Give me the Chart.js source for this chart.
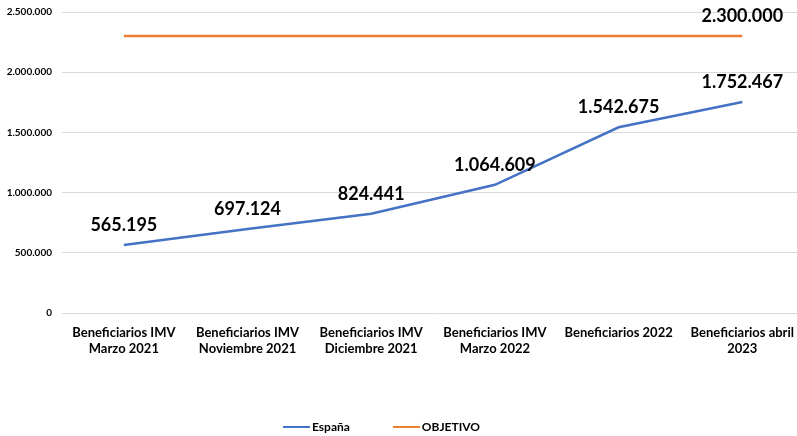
<!DOCTYPE html>
<html>
<head>
<meta charset="utf-8">
<script src="https://cdn.jsdelivr.net/npm/chart.js@4"></script>
<style>
  html, body { margin: 0; padding: 0; background: #fff; overflow: hidden; }
  #wrap { position: relative; width: 806px; height: 440px; margin-top: -4px; }
  #legend { position: absolute; top: 423px; left: 283px; display: flex; font: bold 12px Lato, sans-serif; color: #000; }
  #legend span { display: flex; align-items: center; margin-right: 43px; }
  #legend i { display: inline-block; width: 27px; height: 2px; margin-right: 2px; }
</style>
</head>
<body>
<div id="wrap">
  <canvas id="chart"></canvas>
  <div id="legend">
    <span><i style="background:#4472C4"></i>España</span>
    <span><i style="background:#ED7D31"></i>OBJETIVO</span>
  </div>
</div>
<script>
// Datos
const categories = [
    ['Beneficiarios IMV', 'Marzo 2021'],
    ['Beneficiarios IMV', 'Noviembre 2021'],
    ['Beneficiarios IMV', 'Diciembre 2021'],
    ['Beneficiarios IMV', 'Marzo 2022'],
    'Beneficiarios 2022',
    ['Beneficiarios abril', '2023']
];
const espana = [565195, 697124, 824441, 1064609, 1542675, 1752467];
const objetivo = [2300000, 2300000, 2300000, 2300000, 2300000, 2300000];
const objetivoLabelIndex = [5]; // solo se etiqueta el último punto
const yTicks = [0, 500000, 1000000, 1500000, 2000000, 2500000];

function fmt(v) {
    return String(v).replace(/\B(?=(\d{3})+(?!\d))/g, '.');
}

// etiquetas de valor encima de cada punto
const valueLabels = {
    id: 'valueLabels',
    afterDatasetsDraw(chart) {
        const ctx = chart.ctx;
        ctx.save();
        ctx.font = 'bold 18px Lato, sans-serif';
        ctx.fillStyle = '#000';
        ctx.textAlign = 'center';
        ctx.textBaseline = 'middle';
        chart.data.datasets.forEach((ds, di) => {
            const meta = chart.getDatasetMeta(di);
            meta.data.forEach((pt, i) => {
                if (ds.labelIndex && !ds.labelIndex.includes(i)) return;
                ctx.fillText(fmt(ds.data[i]), pt.x, pt.y - 20);
            });
        });
        ctx.restore();
    }
};

new Chart(document.getElementById('chart'), {
    type: 'line',
    data: {
        labels: categories,
        datasets: [{
            label: 'España',
            data: espana,
            borderColor: '#4472C4',
            borderWidth: 2.5,
            pointRadius: 0,
            tension: 0
        }, {
            label: 'OBJETIVO',
            data: objetivo,
            labelIndex: objetivoLabelIndex,
            borderColor: '#ED7D31',
            borderWidth: 2.5,
            pointRadius: 0,
            tension: 0
        }]
    },
    options: {
        responsive: true,
        maintainAspectRatio: false,
        animation: false,
        layout: { padding: { top: 3, left: 0, right: 0, bottom: 0 } },
        plugins: {
            legend: { display: false },
            tooltip: { enabled: false }
        },
        scales: {
            x: {
                offset: true,
                grid: { display: false, drawTicks: false },
                border: { display: false },
                ticks: {
                    color: '#000',
                    font: { family: 'Lato', weight: 'bold', size: 13 },
                    padding: 12,
                    maxRotation: 0,
                    autoSkip: false
                },
                afterFit(scale) { scale.height = 123; }
            },
            y: {
                min: 0,
                max: 2500000,
                afterBuildTicks(scale) { scale.ticks = yTicks.map(v => ({ value: v })); },
                grid: { color: '#d9d9d9', drawTicks: false },
                border: { display: false },
                ticks: {
                    color: '#000',
                    font: { family: 'Lato', weight: 'bold', size: 10 },
                    padding: 10,
                    callback: v => fmt(v)
                },
                afterFit(scale) { scale.width = 62; }
            }
        }
    },
    plugins: [valueLabels]
});
</script>
</body>
</html>
